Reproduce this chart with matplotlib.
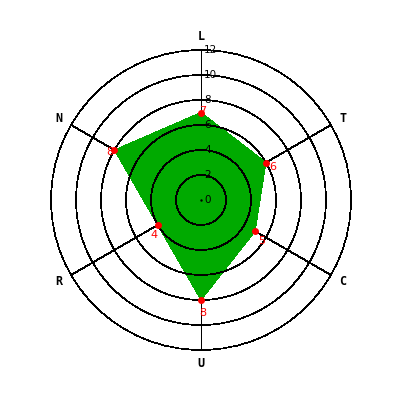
import numpy as np
import matplotlib
matplotlib.use("Agg")
import matplotlib.pyplot as plt

# dane wykresu radarowego
categories = ["L", "T", "C", "U", "R", "N"]
values = [7, 6, 5, 8, 4, 8]
r_ticks = [0, 2, 4, 6, 8, 10, 12]

# przesuniecia etykiet wartosci (piksele)
label_offsets = [(2, 1), (7, -4), (7, -10), (2, -13), (-4, -10), (-5, -2)]

fig = plt.figure(figsize=(4, 4), dpi=100)
fig.patch.set_facecolor("white")
ax = fig.add_axes([0.1275, 0.125, 0.75, 0.75], projection="polar")
ax.set_theta_zero_location("N")
ax.set_theta_direction(-1)
ax.set_ylim(0, 12)
ax.grid(False)
ax.set_xticks([])
ax.set_yticks([])
ax.spines["polar"].set_color("black")
ax.spines["polar"].set_linewidth(0.5)
ax.spines["polar"].set_antialiased(False)

angles = np.arange(len(categories)) * 2 * np.pi / len(categories)

# szprychy pod wypelnieniem
ax.vlines(angles, 0, 12, colors="black", lw=0.6, zorder=1, antialiased=False)

# wypelnienie
th = np.append(angles, angles[0])
vv = np.append(values, values[0])
ax.fill(th, vv, color="#00aa00", zorder=2, lw=0, antialiased=False)

# okregi nad wypelnieniem
circ = np.linspace(0, 2 * np.pi, 400)
for r in r_ticks[1:-1]:
    ax.plot(circ, np.full_like(circ, r), color="black", lw=0.5, zorder=3, antialiased=False)

# etykiety osi radialnej
for r in r_ticks:
    ax.annotate(str(r), xy=(0, r), xytext=(3, 0), textcoords="offset pixels",
                ha="left", va="center", fontsize=7.5, color="black", zorder=5)
ax.plot([0], [0], "k.", ms=1.5, zorder=5)

# kategorie
for a, c in zip(angles, categories):
    ax.text(a, 13.1, c, ha="center", va="center", fontsize=8.5,
            fontweight="bold", family="DejaVu Sans Mono", clip_on=False)

# punkty i wartosci
ax.plot(angles, values, "o", color="red", ms=4, zorder=6, clip_on=False)
for a, v, off in zip(angles, values, label_offsets):
    ax.annotate(str(v), xy=(a, v), xytext=off, textcoords="offset pixels",
                ha="center", va="center", fontsize=8, color="red", zorder=5)

fig.savefig("out.png", dpi=100)
